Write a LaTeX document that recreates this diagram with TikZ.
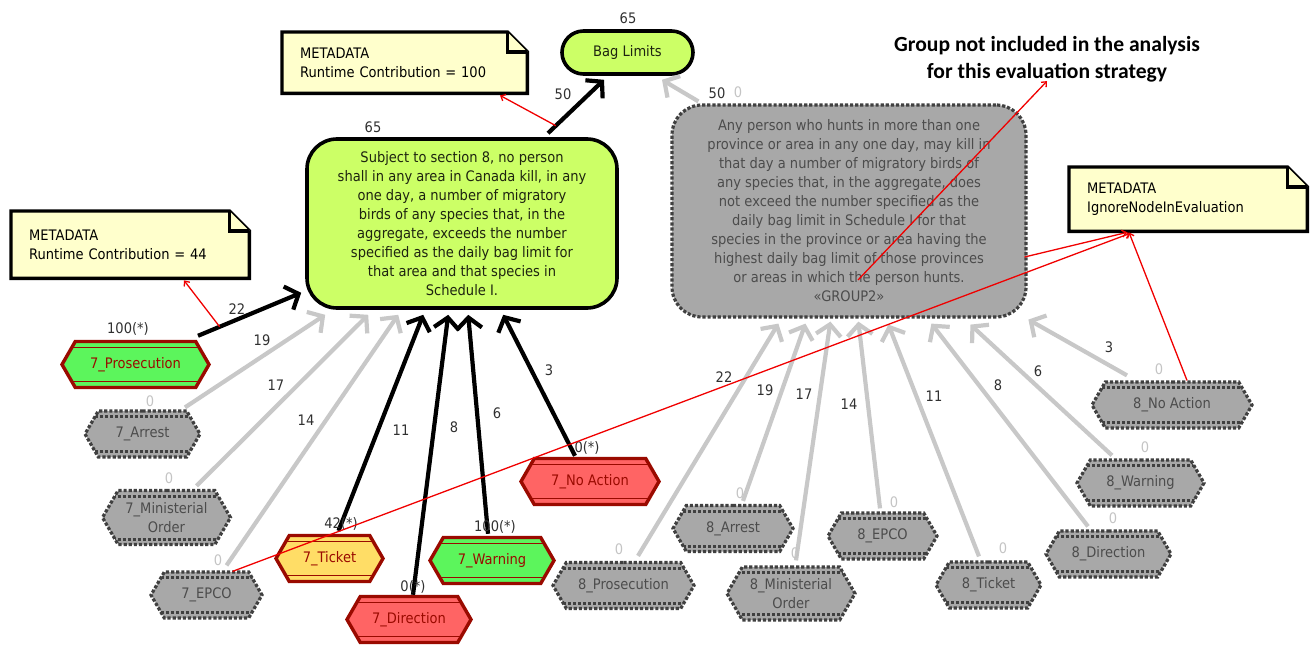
\documentclass[tikz,border=0pt]{standalone}
\usepackage{fontspec}
\setmainfont{DejaVu Sans}[FakeStretch=0.9]
\newfontfamily\headfont{Carlito}
\usetikzlibrary{shapes.symbols,arrows.meta,calc}
\pgfdeclarelayer{background}
\pgfsetlayers{background,main}

\definecolor{limefill}{HTML}{CCFF66}
\definecolor{notefill}{HTML}{FFFFCC}
\definecolor{hexred}{HTML}{9A0A00}
\definecolor{redfill}{HTML}{FF6464}
\definecolor{greenfill}{HTML}{5CF55C}
\definecolor{yellowfill}{HTML}{FFDD66}
\definecolor{greyfill}{HTML}{A8A8A8}
\definecolor{greytext}{HTML}{4C4C4C}
\definecolor{dotcol}{HTML}{404040}
\definecolor{edgegrey}{HTML}{C8C8C8}
\definecolor{zerogrey}{HTML}{C4C4C4}
\definecolor{labeldark}{HTML}{303030}
\definecolor{maintext}{HTML}{1E2410}
\definecolor{linkred}{HTML}{F00000}

\tikzset{
  lbl/.style={text=labeldark, inner sep=0pt},
  zero/.style={text=zerogrey, inner sep=0pt},
  hexbase/.style={signal, signal to=east and west, signal pointer angle=120,
    inner sep=0pt, align=center, minimum height=46pt},
  hexon/.style={hexbase, draw=hexred, line width=3.4pt, text=hexred, fill=#1,
    path picture={
      \draw[hexred, line width=1.8pt, solid]
        ([yshift=-6pt]path picture bounding box.north west) -- ([yshift=-6pt]path picture bounding box.north east)
        ([yshift=6pt]path picture bounding box.south west) -- ([yshift=6pt]path picture bounding box.south east);
    }},
  hexoff/.style={hexbase, draw=dotcol, line width=3.2pt, dash pattern=on 3.2pt off 1.9pt,
    fill=greyfill, text=greytext,
    path picture={
      \draw[dotcol, line width=3pt, dash pattern=on 3pt off 2pt]
        ([yshift=-5.5pt]path picture bounding box.north west) -- ([yshift=-5.5pt]path picture bounding box.north east)
        ([yshift=5.5pt]path picture bounding box.south west) -- ([yshift=5.5pt]path picture bounding box.south east);
    }},
  mainbox/.style={rectangle, rounded corners=30pt, draw=black, line width=3.6pt,
    fill=limefill, text=maintext, align=center, inner sep=0pt},
  groupbox/.style={rectangle, rounded corners=30pt, draw=dotcol, line width=3.2pt,
    dash pattern=on 3.2pt off 1.9pt, fill=greyfill, text=greytext, align=center, inner sep=0pt},
  notebox/.style={rectangle, inner xsep=18pt, inner ysep=0pt, align=left, anchor=north west},
  noteline/.style={draw=black, line width=3.4pt, line join=miter},
  blk/.style={draw=black, line width=4.2pt, -{Straight Barb[length=11pt,width=25pt]}},
  gry/.style={blk, draw=edgegrey},
  redlink/.style={draw=linkred, line width=1.3pt, -{Straight Barb[length=4pt,width=7pt]}},
}

% folded-corner note outline behind a note node
\newcommand\notebg[1]{%
  \begin{pgfonlayer}{background}
    \draw[noteline, fill=notefill] (#1.north west) -- ([xshift=-20pt]#1.north east)
      -- ([yshift=-20pt]#1.north east) -- (#1.south east) -- (#1.south west) -- cycle;
    \draw[noteline, fill=notefill] ([xshift=-20pt]#1.north east)
      -- ([xshift=-20pt,yshift=-20pt]#1.north east) -- ([yshift=-20pt]#1.north east);
  \end{pgfonlayer}}

\begin{document}
\begin{tikzpicture}[x=1pt, y=-1pt, font=\fontsize{14.5}{19}\selectfont]
\useasboundingbox (0,0) rectangle (1312,647);

% ---- notes
\node[notebox, minimum width=245pt, minimum height=61pt, text width=209pt] (md1) at (282,32)
  {METADATA\\Runtime Contribution = 100};
\notebg{md1}
\node[notebox, minimum width=238pt, minimum height=67pt, text width=202pt] (md2) at (11,211)
  {METADATA\\Runtime Contribution = 44};
\notebg{md2}
\node[notebox, minimum width=238pt, minimum height=64pt, text width=202pt] (md3) at (1069,167)
  {METADATA\\IgnoreNodeInEvaluation};
\notebg{md3}

\node[inner sep=0pt, align=center, font=\headfont\bfseries\fontsize{21.6}{27}\selectfont] (head) at (1047,59)
  {Group not included in the analysis\\for this evaluation strategy};

% ---- goals
\node[mainbox, rounded corners=21.5pt, minimum width=131pt, minimum height=43pt] (bag) at (627.5,52.5) {Bag Limits};
\node[mainbox, minimum width=310pt, minimum height=169pt] (main) at (462,223.5)
  {Subject to section 8, no person\\
   shall in any area in Canada kill, in any\\
   one day, a number of migratory\\
   birds of any species that, in the\\
   aggregate, exceeds the number\\
   specified as the daily bag limit for\\
   that area and that species in\\
   Schedule I.};
\node[groupbox, minimum width=354pt, minimum height=212pt] (grp) at (849,211)
  {Any person who hunts in more than one\\
   province or area in any one day, may kill in\\
   that day a number of migratory birds of\\
   any species that, in the aggregate, does\\
   not exceed the number specified as the\\
   daily bag limit in Schedule I for that\\
   species in the province or area having the\\
   highest daily bag limit of those provinces\\
   or areas in which the person hunts.\\
   «GROUP2»};

% ---- section 7 outcomes
\node[hexon=greenfill, minimum width=147pt] (pros7) at (135.5,364.5) {7\_Prosecution};
\node[hexoff, minimum width=115pt] (arr7) at (142.5,434) {7\_Arrest};
\node[hexoff, minimum width=128pt, minimum height=54pt] (min7) at (166.5,517.5) {7\_Ministerial\\Order};
\node[hexoff, minimum width=111pt] (epco7) at (206.5,595) {7\_EPCO};
\node[hexon=yellowfill, minimum width=107pt] (tick7) at (329.5,558.5) {7\_Ticket};
\node[hexon=redfill, minimum width=124pt] (dir7) at (409,619.5) {7\_Direction};
\node[hexon=greenfill, minimum width=124pt] (warn7) at (492,560.5) {7\_Warning};
\node[hexon=redfill, minimum width=138pt] (noa7) at (590,481.5) {7\_No Action};

% ---- section 8 outcomes
\node[hexoff, minimum width=141pt] (pros8) at (623.5,585.5) {8\_Prosecution};
\node[hexoff, minimum width=120pt] (arr8) at (733,528.5) {8\_Arrest};
\node[hexoff, minimum width=128pt, minimum height=53pt] (min8) at (791,593.5) {8\_Ministerial\\Order};
\node[hexoff, minimum width=109pt] (epco8) at (882.5,536) {8\_EPCO};
\node[hexoff, minimum width=105pt] (tick8) at (988.5,585) {8\_Ticket};
\node[hexoff, minimum width=125pt] (dir8) at (1108.5,554) {8\_Direction};
\node[hexoff, minimum width=127pt] (warn8) at (1140.5,483) {8\_Warning};
\node[hexoff, minimum width=160pt] (noa8) at (1172,405) {8\_No Action};

% ---- contribution links
\draw[blk] ($(main.north)+(86,-4)$) -- coordinate[pos=0.14] (ebag) ($(bag.south)+(-23.5,4)$);
\draw[gry] ($(grp.north west)+(28,-2)$) -- ($(bag.south)+(34.5,4)$);

\draw[blk] ($(pros7.north)+(62.5,-4)$) -- coordinate[pos=0.21] (epros) ($(main.south west)+(-4,-17)$);
\draw[gry] ($(arr7.north)+(42.5,-2)$) -- ($(main.south west)+(20,5)$);
\draw[gry] ($(min7.north)+(30,-3)$) -- ($(main.south west)+(63,5)$);
\draw[gry] ($(epco7.north)+(20,-5)$) -- ($(main.south west)+(93,5)$);
\draw[blk] ($(tick7.north)+(9,-3)$) -- ($(main.south west)+(118,5)$);
\draw[blk] ($(dir7.north)+(4,0)$) -- ($(main.south west)+(143,5)$);
\draw[blk] ($(warn7.north)+(-4,-2)$) -- ($(main.south west)+(163,5)$);
\draw[blk] ($(noa7.north)+(-15,-1)$) -- ($(main.south west)+(198,5)$);

\draw[gry] ($(pros8.north)+(14.5,-5)$) -- ($(grp.south west)+(108,5)$);
\draw[gry] ($(arr8.north)+(10,-3)$) -- ($(grp.south west)+(135,5)$);
\draw[gry] ($(min8.north)+(5,-5)$) -- ($(grp.south west)+(160,3)$);
\draw[gry] ($(epco8.north)+(-2.5,-3)$) -- ($(grp.south west)+(188,3)$);
\draw[gry] ($(tick8.north)+(-9.5,-4)$) -- ($(grp.south west)+(218,6)$);
\draw[gry] ($(dir8.north)+(-20.5,-3)$) -- ($(grp.south west)+(261,5)$);
\draw[gry] ($(warn8.north)+(-28.5,-3)$) -- ($(grp.south west)+(300,6)$);
\draw[gry] ($(noa8.north)+(-45,-5)$) -- ($(grp.south west)+(358,1)$);

% ---- values
\node[lbl] (v65bag) at (628,18) {65};
\node[lbl] (v65main) at (373,127) {65};
\node[lbl] (w50a) at (563,94) {50};
\node[lbl] (w50b) at (717,93) {50};
\node[zero] (v0grp) at (738,92) {0};

\node[lbl] (vpros7) at (128,329) {100(*)};
\node[zero] (varr7) at (150,401) {0};
\node[zero] (vmin7) at (169,478) {0};
\node[zero] (vepco7) at (218,560) {0};
\node[lbl] (vtick7) at (341,524) {42(*)};
\node[lbl] (vdir7) at (413,587) {0(*)};
\node[lbl] (vwarn7) at (495,527) {100(*)};
\node[lbl] (vnoa7) at (587,448) {0(*)};

\node[lbl] (w22a) at (237,309) {22};
\node[lbl] (w19a) at (262,340) {19};
\node[lbl] (w17a) at (276,385) {17};
\node[lbl] (w14a) at (306,420) {14};
\node[lbl] (w11a) at (401,430) {11};
\node[lbl] (w8a) at (454,427) {8};
\node[lbl] (w6a) at (497,413) {6};
\node[lbl] (w3a) at (549,370) {3};

\node[zero] (vpros8) at (619,549) {0};
\node[zero] (varr8) at (740,493) {0};
\node[zero] (vmin8) at (795,553) {0};
\node[zero] (vepco8) at (894,502) {0};
\node[zero] (vtick8) at (1003,548) {0};
\node[zero] (vdir8) at (1113,518) {0};
\node[zero] (vwarn8) at (1145,447) {0};
\node[zero] (vnoa8) at (1159,369) {0};

\node[lbl] (w22b) at (724,377) {22};
\node[lbl] (w19b) at (765,390) {19};
\node[lbl] (w17b) at (804,394) {17};
\node[lbl] (w14b) at (849,404) {14};
\node[lbl] (w11b) at (934,396) {11};
\node[lbl] (w8b) at (998,385) {8};
\node[lbl] (w6b) at (1038,371) {6};
\node[lbl] (w3b) at (1109,347) {3};

% ---- annotation links
\draw[redlink] (ebag) -- ($(md1.south west)+(218,2)$);
\draw[redlink] (epros) -- ($(md2.south west)+(173,2)$);
\draw[redlink] ($(grp.center)+(9,69)$) -- ($(head.south)+(0,-1)$);
\draw[redlink] ($(epco7.north)+(26,1)$) -- ($(md3.south west)+(61,2)$);
\draw[redlink] ($(grp.east)+(-3,46)$) -- ($(md3.south west)+(58,1)$);
\draw[redlink] ($(noa8.north)+(15,0)$) -- ($(md3.south west)+(60,1)$);
\end{tikzpicture}
\end{document}
